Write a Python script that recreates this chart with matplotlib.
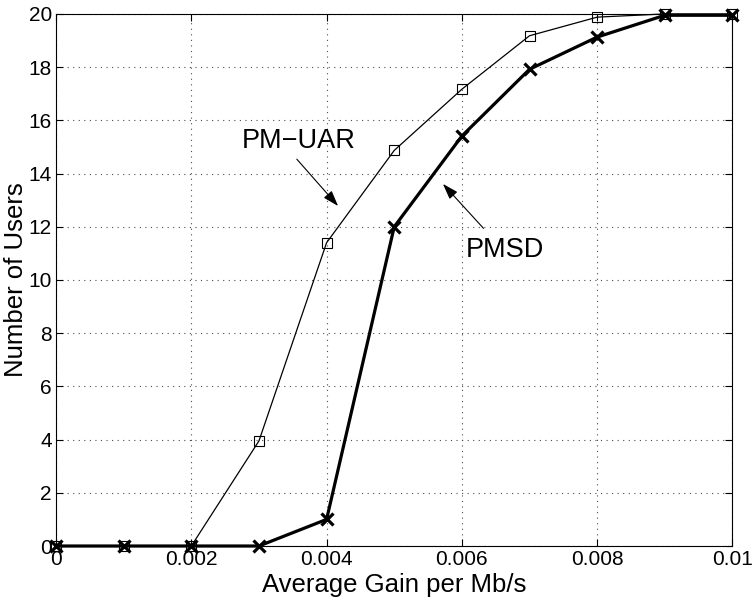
import matplotlib.pyplot as plt

plt.rcParams['font.family'] = ['Liberation Sans', 'DejaVu Sans']

# data
gain = [0, 0.001, 0.002, 0.003, 0.004, 0.005, 0.006, 0.007, 0.008, 0.009, 0.01]
pm_uar = [0, 0, 0, 3.95, 11.4, 14.87, 17.17, 19.18, 19.88, 20, 20]
pmsd = [0, 0, 0, 0, 1.0, 12.0, 15.41, 17.92, 19.13, 19.95, 19.95]
xticks = [0, 0.002, 0.004, 0.006, 0.008, 0.01]
xticklabels = ['0', '0.002', '0.004', '0.006', '0.008', '0.01']
yticks = list(range(0, 21, 2))

fig = plt.figure(figsize=(7.52, 6.06), dpi=100)
ax = fig.add_axes([0.0745, 0.099, 0.8995, 0.878])

ax.plot(gain, pm_uar, color='k', lw=0.9, marker='s', ms=7,
        mfc='none', mec='k', mew=0.8, clip_on=False, zorder=3)
ax.plot(gain, pmsd, color='k', lw=2.3, marker='x', ms=8.5,
        mew=2.3, clip_on=False, zorder=4)

ax.set_xlim(0, 0.01)
ax.set_ylim(0, 20)
ax.set_xticks(xticks)
ax.set_xticklabels(xticklabels)
ax.set_yticks(yticks)
ax.tick_params(direction='in', top=True, right=True, labelsize=15,
               length=5, pad=3)
ax.grid(True, linestyle=(0, (1, 4)), color='0.3', lw=0.8)

ax.set_xlabel('Average Gain per Mb/s', fontsize=18.5, labelpad=3)
ax.set_ylabel('Number of Users', fontsize=18.5)
ax.yaxis.set_label_coords(-0.042, 0.5)

# labels with arrows
arrow = dict(arrowstyle='-|>,head_length=0.6,head_width=0.2', color='k',
             lw=0.8, mutation_scale=16, shrinkA=0, shrinkB=0)
ax.text(0.00359, 15.23, 'PM\u2212UAR', fontsize=19.5, ha='center', va='center')
ax.annotate('', xy=(0.00417, 12.78), xytext=(0.00356, 14.54),
            arrowprops=arrow)
ax.text(0.00664, 11.13, 'PMSD', fontsize=19.5, ha='center', va='center')
ax.annotate('', xy=(0.00572, 13.61), xytext=(0.00632, 11.94),
            arrowprops=arrow)

fig.savefig('out.png', dpi=100)
